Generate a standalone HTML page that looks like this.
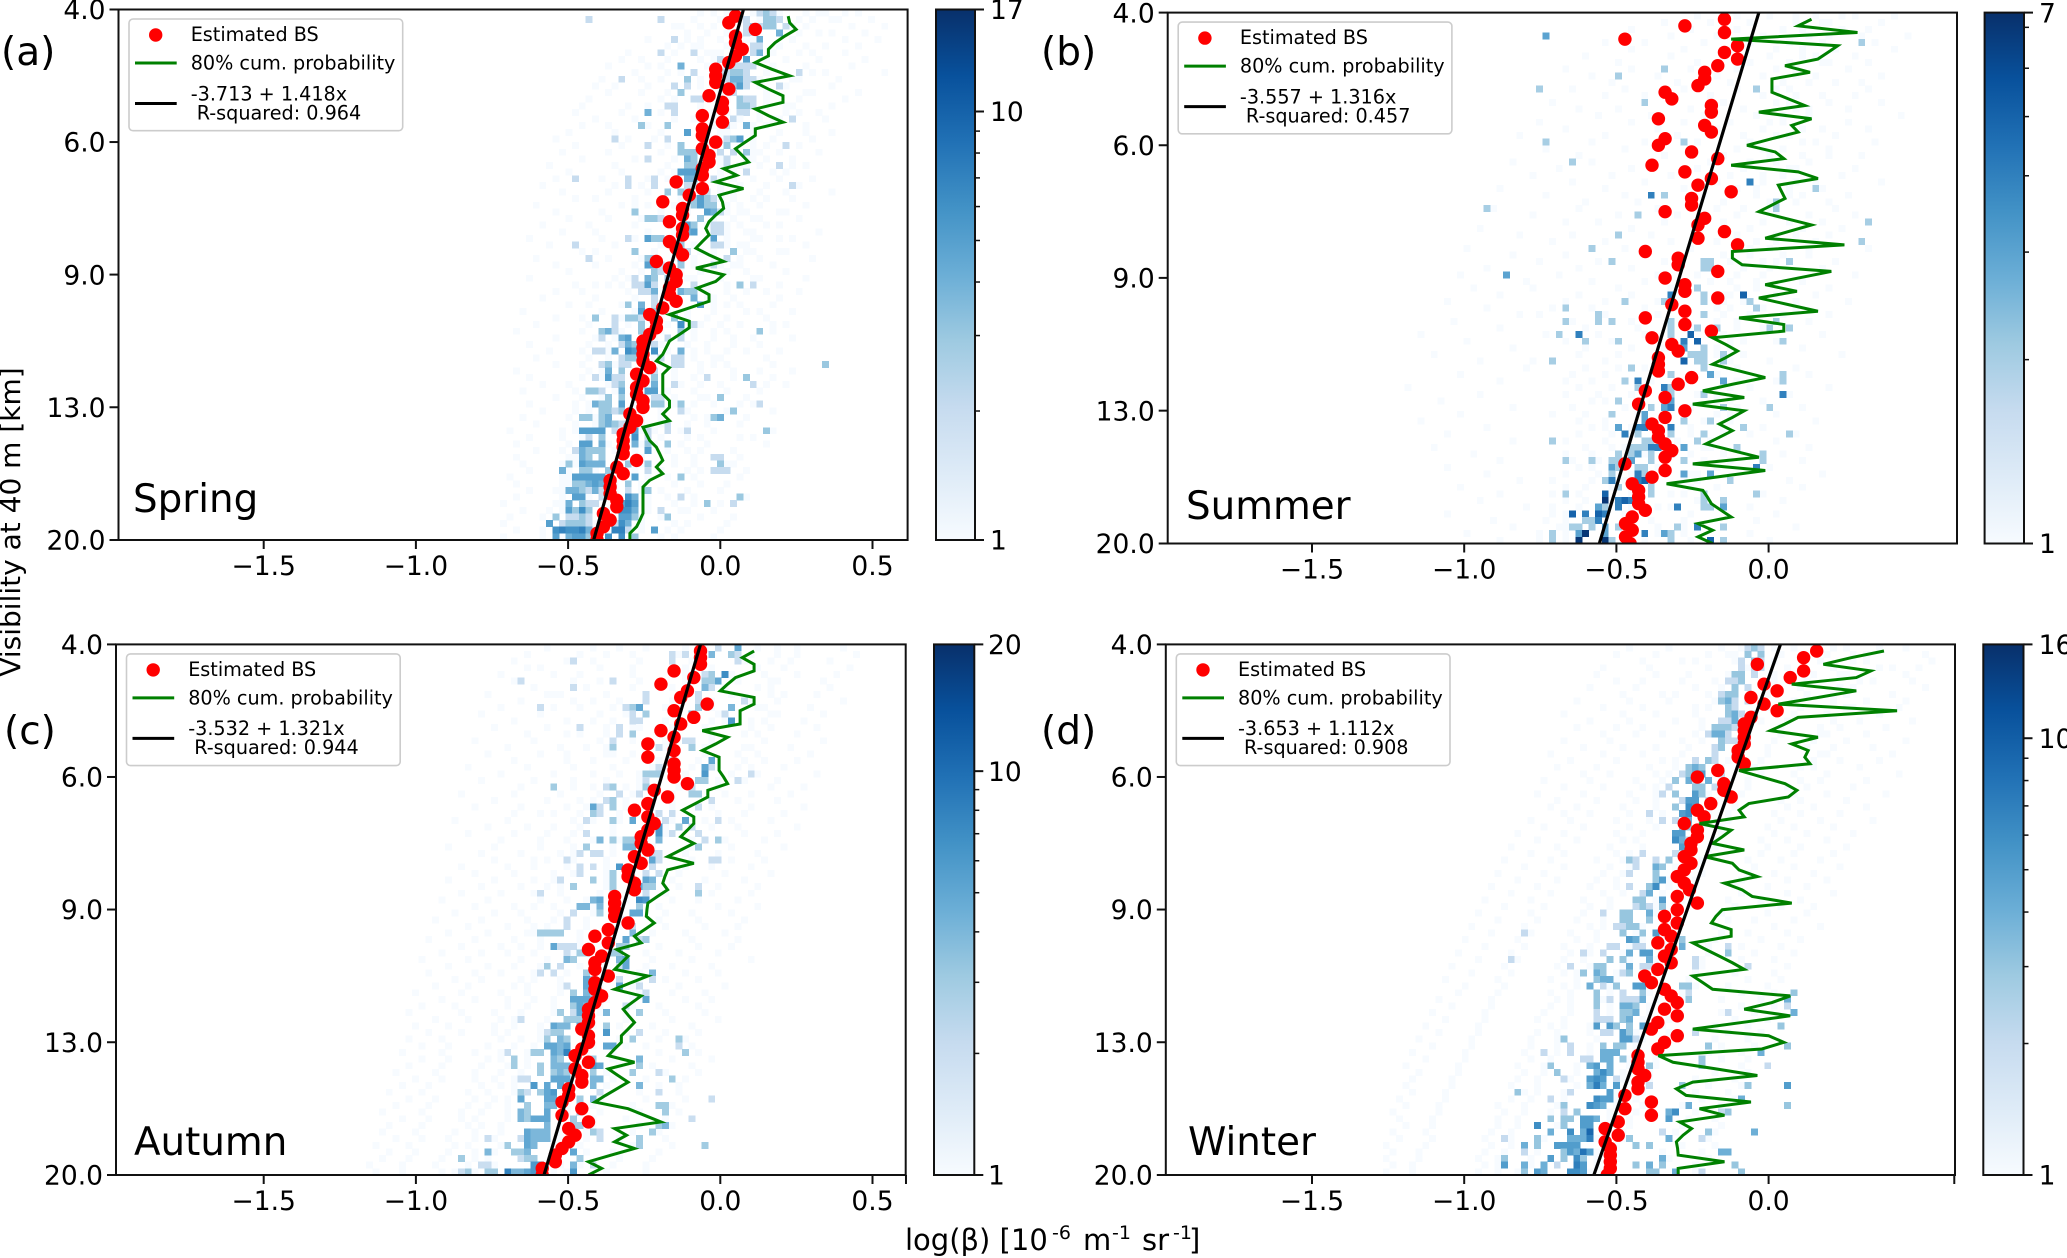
<!DOCTYPE html>
<html lang="en">
<head>
<meta charset="utf-8">
<title>Visibility vs backscatter by season</title>
<style>
html,body{margin:0;padding:0;background:#fff;width:2067px;height:1258px;overflow:hidden}
svg{display:block}
text{font-family:"DejaVu Sans","Liberation Sans",sans-serif;fill:#000}
</style>
</head>
<body>
<svg id="figure" xmlns="http://www.w3.org/2000/svg" width="2067" height="1258" viewBox="0 0 2067 1258">
<defs>
<linearGradient id="blues" x1="0" y1="1" x2="0" y2="0">
<stop offset="0" stop-color="#f7fbff"/><stop offset=".125" stop-color="#deebf7"/><stop offset=".25" stop-color="#c6dbef"/><stop offset=".375" stop-color="#9ecae1"/><stop offset=".5" stop-color="#6baed6"/><stop offset=".625" stop-color="#4292c6"/><stop offset=".75" stop-color="#2171b5"/><stop offset=".875" stop-color="#08519c"/><stop offset="1" stop-color="#08306b"/>
</linearGradient>
</defs>
<text transform="translate(20,522) rotate(-90)" text-anchor="middle" font-size="28">Visibility at 40 m [km]</text>
<text y="1250" font-size="29"><tspan x="905">log(β) [10</tspan><tspan x="1052" dy="-11" font-size="19">-6</tspan><tspan x="1083" dy="11">m</tspan><tspan x="1112" dy="-11" font-size="19">-1</tspan><tspan x="1142" dy="11">sr</tspan><tspan x="1173" dy="-11" font-size="19">-1</tspan><tspan x="1189" dy="11">]</tspan></text>
</svg>
<script>
// Shared axis data
const yTickValues = [4, 5.98, 8.94, 13.37, 20];
const yTickLabels = ['4.0', '6.0', '9.0', '13.0', '20.0'];
const xTickValuesFull = [-1.5, -1.0, -0.5, 0.0, 0.5, 0.61];
const xTickLabelsFull = ['\u22121.5', '\u22121.0', '\u22120.5', '0.0', '0.5', ''];
const xTickValuesShortB = [-1.5, -1.0, -0.5, 0.0];
const xTickLabelsShortB = ['\u22121.5', '\u22121.0', '\u22120.5', '0.0'];
const xTickValuesShortD = [-1.5, -1.0, -0.5, 0.0, 0.61];
const xTickLabelsShortD = ['\u22121.5', '\u22121.0', '\u22120.5', '0.0', ''];
const xTickValuesA = [-1.5, -1.0, -0.5, 0.0, 0.5];
const xTickLabelsA = ['\u22121.5', '\u22121.0', '\u22120.5', '0.0', '0.5'];

// Colour-bar maxima per panel (top tick is labelled with the whole-number part)
const colorbarMaxA = 17.3;
const colorbarMaxB = 7.4;
const colorbarMaxC = 20.6;
const colorbarMaxD = 16.4;

// Fitted line: log(beta) at 4 km and at 20 km
const fitA = [0.076, -0.416];
const fitB = [-0.032, -0.556];
const fitC = [-0.065, -0.579];
const fitD = [0.039, -0.574];

// Estimated BS: log(beta) for visibility steps 1..80
const dotsA = [.05,.028,.115,.05,.05,.072,.05,.028,-.015,-.015,-.015,.028,-.037,.007,.007,-.059,.007,-.059,-.059,-.015,-.059,-.037,-.037,-.059,-.059,-.145,-.059,-.102,-.189,-.124,-.124,-.167,-.124,-.124,-.167,-.145,-.124,-.21,-.167,-.145,-.145,-.167,-.167,-.145,-.189,-.232,-.21,-.21,-.232,-.254,-.254,-.254,-.254,-.232,-.275,-.254,-.275,-.275,-.254,-.254,-.297,-.275,-.297,-.319,-.319,-.319,-.319,-.275,-.34,-.319,-.362,-.362,-.362,-.34,-.34,-.384,-.362,-.384,-.405,-.405];
const dotsB = [-.145,-.275,-.145,-.472,-.102,-.145,-.102,-.167,-.21,-.21,-.232,-.34,-.318,-.188,-.188,-.362,-.21,-.188,-.34,-.362,-.253,-.167,-.383,-.275,-.188,-.232,-.123,-.253,-.253,-.34,-.21,-.232,-.145,-.232,-.102,-.405,-.297,-.297,-.167,-.34,-.275,-.275,-.167,-.318,-.275,-.405,-.275,-.188,-.383,-.318,-.297,-.362,-.362,-.362,-.253,-.297,-.405,-.34,-.427,-.275,-.34,-.383,-.362,-.362,-.34,-.318,-.34,-.472,-.34,-.383,-.448,-.427,-.427,-.427,-.405,-.448,-.47,-.448,-.47,-.455];
const dotsC = [-.065,-.065,-.065,-.152,-.087,-.195,-.108,-.13,-.043,-.152,-.087,-.13,-.195,-.152,-.238,-.152,-.238,-.152,-.152,-.152,-.108,-.217,-.173,-.238,-.282,-.238,-.217,-.238,-.26,-.26,-.238,-.282,-.26,-.303,-.303,-.282,-.282,-.347,-.347,-.347,-.347,-.303,-.368,-.412,-.368,-.433,-.39,-.412,-.412,-.368,-.412,-.412,-.39,-.412,-.433,-.433,-.433,-.455,-.433,-.433,-.455,-.477,-.433,-.477,-.455,-.455,-.498,-.498,-.52,-.455,-.52,-.433,-.498,-.477,-.498,-.52,-.542,-.542,-.585,-.585];
const dotsD = [.158,.115,-.037,.115,.071,-.015,.028,-.058,-.015,.028,-.058,-.08,-.08,-.08,-.08,-.10,-.10,-.08,-.167,-.234,-.147,-.147,-.123,-.19,-.234,-.212,-.277,-.234,-.234,-.255,-.255,-.277,-.255,-.277,-.3,-.277,-.26,-.3,-.234,-.3,-.342,-.3,-.342,-.32,-.364,-.32,-.342,-.32,-.364,-.407,-.385,-.342,-.32,-.3,-.342,-.3,-.364,-.385,-.3,-.342,-.364,-.429,-.429,-.429,-.407,-.429,-.429,-.472,-.385,-.472,-.385,-.494,-.537,-.494,-.537,-.52,-.52,-.52,-.52,-.53];

// 80% cumulative probability: log(beta) for visibility steps 1..80
const greenA = [.223,.228,.249,.212,.18,.158,.158,.115,.169,.228,.115,.158,.206,.206,.115,.158,.206,.115,.115,.082,.05,.072,.093,.011,.054,-.015,.076,-.004,.007,.011,-.015,-.037,-.048,-.037,-.059,-.08,-.037,.011,-.08,.011,-.015,-.076,-.037,-.037,-.102,-.167,-.102,-.102,-.134,-.167,-.178,-.189,-.21,-.167,-.189,-.189,-.189,-.189,-.167,-.167,-.189,-.167,-.254,-.243,-.232,-.21,-.199,-.189,-.21,-.189,-.232,-.254,-.254,-.254,-.254,-.254,-.264,-.275,-.297,-.297];
const greenB = [.141,.097,.292,-.123,.227,.195,.162,.054,.136,.011,.011,.011,.065,.119,-.032,.141,.076,.097,.011,-.071,.022,.05,-.123,.097,.162,.032,.043,.054,.011,-.032,.054,.141,.065,-.011,.249,-.119,-.119,-.087,.206,.097,-.011,.093,-.032,.065,.162,-.097,.05,.05,-.184,-.141,-.102,-.141,-.184,-.097,-.011,-.119,-.216,-.08,-.249,-.08,-.119,-.162,-.119,-.162,-.206,-.119,-.032,-.249,-.011,-.173,-.335,-.216,-.201,-.188,-.156,-.123,-.232,-.184,-.232,-.184];
const greenC = [.111,.072,.111,.111,.05,.024,0,.111,.111,.065,.065,.065,-.059,.024,-.015,-.059,-.004,-.004,-.004,.011,.024,-.041,-.041,-.082,-.124,-.087,-.087,-.108,-.13,-.087,-.13,-.173,-.087,-.173,-.182,-.189,-.173,-.206,-.238,-.241,-.243,-.217,-.249,-.282,-.26,-.34,-.303,-.325,-.347,-.238,-.293,-.347,-.26,-.29,-.319,-.301,-.282,-.303,-.325,-.325,-.347,-.368,-.282,-.368,-.336,-.303,-.34,-.377,-.412,-.303,-.249,-.195,-.347,-.308,-.347,-.282,-.358,-.433,-.39,-.433];
const greenD = [.379,.271,.18,.336,.288,.076,.288,.162,.032,.422,.097,.054,.006,.162,.076,.13,.119,.136,-.097,-.022,.054,.093,.065,-.065,-.097,-.08,-.227,-.123,-.152,-.184,-.08,-.21,-.119,-.097,-.037,-.145,-.087,-.054,.076,-.152,-.173,-.188,-.123,-.123,-.249,-.206,-.162,-.119,-.08,-.249,-.216,-.184,.071,.011,-.08,.071,-.087,-.249,0,.05,-.022,-.362,-.314,-.173,-.037,-.249,-.303,-.271,-.058,-.227,-.145,-.292,-.253,-.281,-.303,-.299,-.297,-.145,-.297,-.297];

// 2-D histogram: one entry per visibility bin, as [betaBin, count, betaBin, count, ...]
const heatA = [
[92,1,96,1,97,2,98,3,99,2],[71,2,82,2,94,1,95,2,98,3,99,3,100,2],[85,1,95,2,96,3,97,2,98,3,99,3,101,2],[95,2,96,2,100,4],[84,2,93,1,96,1,97,4],[85,1,87,1,88,1,96,2,97,2],[82,2,87,2,89,1,90,1,96,2,97,4],[91,2,92,1,95,5],
[85,4,92,2,93,2,94,2,95,2,96,2],[87,2,91,2,92,2,93,3,94,3,95,2,103,2],[76,2,86,3,92,2,93,4,94,4,95,2,96,2],[84,2,86,2,93,3,94,5,95,2,97,1,100,2],[85,3,92,1,93,2],[87,2,88,2,94,3,95,2,96,2],[83,2,84,2,94,3,95,3,96,2],[80,4,84,2,94,2,95,2],
[87,1,93,2,94,1,102,2],[79,3,83,3,92,2,93,1,95,4],[86,5,92,1],[75,2,83,2,92,2,93,3,94,5],[80,2,85,3,92,3,101,2],[85,3,86,3,87,3,91,2,93,2,95,3],[80,2,86,4,87,3,92,2],[86,3,87,3,92,2,95,1,100,2],
[85,5,86,5,87,5,95,2],[69,2,77,2,81,2,86,4,87,4,90,2],[77,2,81,2,86,2,87,2,102,2],[83,3,85,3,86,2,89,2],[87,3,88,5,89,3,90,2],[78,1,87,3,88,5,89,3,90,3],[78,3,85,2,89,5,90,4,91,2],[80,3,81,3,82,2,88,3],
[86,5,87,3,90,2,91,2],[86,4,87,5,90,2,91,2],[77,2,80,5,81,3,82,3,90,5],[69,2,84,2,85,3,90,2,91,2],[78,3,85,3,86,2,93,3],[71,2,80,3,81,3,85,5,92,2],[80,5,81,5,82,2,85,3,90,2],[81,3,82,2,84,3],
[78,2,80,4,81,3,83,3],[74,1,78,2,79,2,80,5,81,2,87,2,94,3,96,2],[79,2,80,2,81,4,85,4,86,3,87,3],[81,2,84,1,87,4,90,1],[77,3,79,4,81,2,88,5],[79,5,81,3],[72,3,75,2,77,3,78,3,79,2,84,3],[75,2,79,3,81,2,85,6,87,2],
[73,3,74,4,75,2,79,3,85,3,97,3],[73,2,76,4,77,5,83,2,85,2],[76,2,77,4,78,3,81,2],[72,2,73,2,75,4,77,6,78,5,81,6,85,4],[76,2,77,3,78,3,82,2,84,2,85,2],[73,2,74,3,76,2,77,2,84,2,85,2,107,3],[74,4,76,3,81,2],[72,2,74,5,75,2,76,2,81,3,89,2,95,3],
[75,2,76,3,81,4,84,2,96,2],[71,3,72,3,73,2,76,4,80,5,81,5],[74,3,76,3,81,2,82,2,91,3],[72,4,73,3,74,3,76,5,81,3,82,3,85,3,97,2],[73,3,74,3,75,2,76,3,85,2,93,3],[70,3,71,3,73,3,74,4,90,3,91,4],[73,3,74,4,75,3,76,2,83,2],[70,5,71,5,72,5,73,5,75,2,78,5,80,2,83,2,86,2,98,3],
[71,2,73,3,78,6,80,2],[70,5,71,5,73,4,78,4,80,3,83,3],[69,2,70,4,71,3,72,3,73,3,80,5],[70,4,71,3,73,3,90,2,91,2],[68,3,70,5,71,4,72,4,73,4,77,3,80,3,91,3],[67,4,70,3,71,3,74,3,80,2,90,2,91,2,92,2],[69,5,70,5,71,5,72,5,73,5,78,5,85,3],[69,3,70,3,71,4,72,5,73,4,77,3],
[68,4,69,4,70,3,71,2,72,4,73,2,77,2,80,3],[69,5,70,5,73,2,77,6,78,4,85,2,94,3],[68,4,70,3,71,2,72,2,76,5,77,7,78,5,89,3,93,2],[68,5,69,3,70,6,71,3,76,6,77,6,78,4,82,2],[66,3,68,2,69,2,70,3,71,2,76,5,77,5,78,3,83,3],[65,5,67,2,68,3,69,3,70,3,71,2,75,2,76,6,77,4],[66,6,67,7,68,6,69,6,70,7,71,4,75,7,76,7,77,2,81,5],[66,5,68,4,69,5,70,5,71,3,74,6,76,6,78,3]
];
const heatB = [
[95,1],[],[],[57,3],[105,2],[],[],[],[75,2],[68,2],[],[56,2,89,2],[],[72,2],[],[],[],[],[],[57,2,78,2],[],[],[61,2],[],[],[88,4],[98,2],[73,4,75,2],[92,2],[48,2,92,2],[71,2],[106,2],[],[68,2],[105,2],[64,2],[],[67,2,81,2,82,2,94,2],[81,2,82,2],[51,3],[],[80,2],
[76,4,81,2,87,5],[69,2,75,2,81,2,88,2],[60,2,89,2],[65,2,81,2],[60,2,65,2,67,2,76,2,92,2],[76,2,80,2,83,2,91,2,94,2],[59,2,62,4,76,2,79,5],[63,2,68,2,78,4,80,5,93,2],[78,3,81,2],[79,2,80,2,81,2,84,2],[58,2,78,5,80,2,81,2,84,2],[70,2,81,2],[76,2,82,3,93,2],[69,2,71,4,84,3,93,2],[71,2,75,4,76,2],[76,2,81,2,93,4],[68,2,75,2,76,3],[73,2,75,3,76,4,84,2,91,2],[67,2,72,3],[72,3,78,2,82,2],[68,3,71,4,72,4,76,4,87,2],[69,4,71,2,76,2,81,2,94,2],[58,2,72,2,73,2,80,2],[70,2,71,2,72,2,73,4,74,4,78,3,86,2],[68,2,70,2,71,3,73,2,76,2,90,2],[60,2,64,2,67,2,68,2,70,3,73,2,78,2,90,2],
[67,3,68,2,71,2,72,2,89,4],[67,2,71,4,72,2,78,3,82,3],[66,2,67,4,71,4,72,5,73,2,85,2],[68,2,71,2,73,2],[60,2,66,5,73,2,81,2,89,2],[66,7,68,4,69,5,70,4,81,2,84,2],[65,3,66,2,68,4,77,4,81,2,82,2,84,3],[61,5,63,4,65,5,66,4],[63,2,64,2,65,4],[61,2,62,2,64,2,66,3,68,2,77,2,80,4,84,2],[58,2,62,3,63,7,66,3,72,4,75,3,76,2],[58,2,62,7,66,7,67,2,76,2,82,5,84,2]
];
const heatC = [
[88,1,89,1,91,2,94,5],[84,2,86,2,90,4,93,3,94,2],[69,2,84,2,87,1,94,2],[62,1,86,1],[89,2,90,3,92,7],[61,2,75,2,89,3,90,3,91,5],[69,2,89,4,90,2],[65,1,66,1,80,2,88,2],
[80,2,88,2,95,2],[64,2,77,2,78,3,79,5,88,3,93,4],[78,2,80,3,87,4,92,2],[78,2,79,2,92,1,93,6],[70,2,76,2,79,1],[76,2,78,3],[75,2,86,2,87,2],[75,3,82,2,87,3],
[75,1,78,1],[84,2,90,5],[82,2,89,5,90,2],[80,3,81,3,82,3,89,6,96,2],[80,2,88,3,89,3,94,2],[66,3,74,2,75,3,80,3,87,2],[76,2,79,2,87,3,88,3],[74,2,75,3,90,2],
[72,5,73,2,75,3,88,2],[72,3,73,2,82,2,84,2],[71,2,75,3,78,5,83,2,86,5,91,2],[82,6,85,3,87,2],[71,2,82,6,84,2,88,2],[73,4,75,3,77,3,78,3,82,4,89,2,91,3,92,1],[71,3,77,4,78,4,88,3],[70,2,72,2,73,2,81,2,82,2],
[68,2,81,5,82,2,90,2,91,2],[70,2,72,2,76,6,81,2],[70,2,75,3,80,2,82,2],[67,2,72,3,75,3,80,5,81,4],[69,3,75,3,79,5,80,3,81,3,88,2],[64,2,75,2,80,2,88,3],[72,4,73,5,79,7,80,6],[70,4,71,4,73,4,79,3],
[69,2,73,3,78,5,79,5],[68,2,77,2],[68,2,78,2],[64,3,65,3,66,3,67,3,78,4],[77,5,79,2,80,3],[66,5,67,2,68,2,69,2,76,3,77,3],[68,2,70,3,71,3,75,3,76,3],[68,4,69,3,76,4,77,5],
[65,3,67,2,76,2,77,5],[64,2,66,2,71,3,81,4],[71,5,72,3,76,2,81,2],[68,2,71,5,72,3,76,5,79,2],[69,3,71,4,72,3,80,2],[69,5,70,5,71,5,72,4,80,5],[69,3,70,5,71,4,77,2],[67,3,69,2,70,5,71,3,74,4,79,3],
[61,2,68,3,69,3,70,3],[66,5,67,4,68,4,70,5,74,3],[65,2,66,3,67,3,74,6,79,2],[65,3,67,4,68,3,78,3,85,3],[65,5,66,5,67,4,68,5,74,5,75,5,85,2],[59,2,63,3,64,3,66,5,67,4,68,8,86,3],[60,3,66,4,67,3,72,3,79,4],[60,3,64,3,66,4,67,4,68,4,72,6,73,5,79,3],
[64,3,66,3,67,4,68,3,72,3,78,3,82,2],[61,2,62,2,66,5,67,5,68,5,72,4,73,4,84,3],[63,6,65,5,67,5,72,4,79,4],[61,3,62,2,64,3,65,5,66,6,73,2,82,2],[61,5,65,5,66,5,70,3,72,4,90,2],[62,3,65,4,66,4,70,3,82,3,83,3],[61,4,62,3,65,5,70,3,83,3],[61,4,62,3,63,5,64,5,65,5,69,3,87,2],
[65,4,69,3,70,3,82,3,83,4],[62,5,63,4,64,4,65,4,72,3,73,2,81,3],[56,2,61,2,62,5,63,4,64,4,65,4,73,2,79,3],[59,3,62,5,63,4,79,3,89,3],[56,4,60,3,61,3,62,4,69,5],[52,3,61,2,62,3,63,3,70,3],[55,2,56,2,63,6,64,6,69,4,72,2],[52,2,53,3,56,3,57,3,59,8,60,4,61,4,62,5,63,6,69,6]
];
const heatD = [
[88,2,89,3,90,2,92,1],[86,1,88,3,90,3],[87,2,89,3,90,2],[87,2,89,2,90,2],[86,3,87,3,89,2],[85,2,86,2,87,3],[86,3,88,2],[84,2,85,3,86,3],
[84,3,85,4,86,2,88,2],[85,3,86,2],[85,3,86,4,87,2,89,2],[84,2,85,2,86,4],[83,3,84,3,85,3,86,2],[82,2,83,4,84,4,85,2],[84,3,85,2,86,2],[83,2,84,3],
[83,2,86,2],[80,2,82,3,83,2],[79,3,80,4,81,3],[78,2,79,3,80,4,81,5,84,2],[77,3,79,4,80,2,82,4],[76,2,80,3,81,3,83,2],[75,2,77,3,80,5,81,3],[78,2,79,5,80,5,82,2],
[77,3,79,6,80,5],[73,2,78,5,79,6],[75,2,77,2,79,4,81,2],[78,3,79,3],[77,5,78,5],[77,6,78,4,79,2],[78,5,79,3],[72,2,77,2,79,3],
[70,3,71,2,74,2,76,3],[71,2,74,4,75,3],[70,2,74,3],[74,3,75,5],[70,2,73,3,74,6],[72,2,73,4],[71,3,72,3,75,5],[71,2,72,3,73,2,75,3],
[66,2,69,3,70,3,73,4],[69,3,70,3,73,3],[68,2,69,2,70,3,71,3],[54,2,69,3,72,3,74,5],[70,5,71,4,78,3],[67,2,68,2,71,2,72,2,78,4,85,2],[63,2,66,2,70,4,72,5,73,5,85,3],[52,2,67,3,69,3,73,4,80,2],
[61,2,65,3,66,3,70,4,72,2,73,2,80,2,88,2],[63,3,65,4,66,3,69,2,70,3],[65,3,66,4,67,4],[64,4,66,2,68,3,71,5,72,5,78,3,79,3],[65,3,69,2,72,3,79,2,95,3],[65,3,67,2,69,2,70,2,71,2,72,4,79,3,94,4],[65,3,69,4,70,4,71,3,94,2],[65,2,69,3,70,3,71,4,85,2,95,4],
[65,2,66,2,67,2,69,3,70,4],[65,5,67,5,68,3,70,3,72,5,93,3],[66,2,67,2,69,5,70,3,80,2],[60,3,69,5,70,5,71,2],[61,2,66,3,68,3,69,3,82,3,94,3],[57,2,61,2,66,4,67,4,68,4,90,4],[63,2,64,2,66,4,67,4,69,3,81,3],[58,3,64,4,65,5,67,4,73,3,81,3,91,2],
[59,3,65,4,66,6,67,4],[60,2,64,5,65,6,66,5,68,2],[64,4,65,7,66,4,68,5,73,2,78,3,88,3,94,5],[53,3,61,2,67,5],[58,2,65,6,66,5,67,5,87,4],[60,3,64,6,65,5,66,4,79,4,94,3],[60,2,62,3,76,4,77,6,84,2,85,3],[58,3,60,3,61,3,63,5,64,5,65,4,76,5],
[56,6,60,3,63,5,64,5],[58,4,61,6,63,4,64,9,75,2,82,3,89,4],[51,2,56,3,61,4,62,4,63,4,64,7,70,3,76,4,81,2],[54,4,56,3,59,5,60,5,61,5,62,5,71,3,73,3],[54,2,60,3,61,5,62,4,63,8,64,5,84,4,85,4],[51,3,58,5,60,3,62,6,63,3,75,4],[51,5,54,4,57,4,59,2,62,7,63,5,71,3,73,4,75,3,86,3],[54,3,56,5,57,4,61,6,62,6,63,5,73,3,74,3,77,4,81,2,87,3]
];

// Single-count histogram bins near the ridge: beta-bin numbers per visibility bin
const faintA = [
[88,90,104,107,110],[87,91,93,103,105,108],[84,88,90,102,104],[86,89,92,103,106],[80,86,88,91,102],[83,92,94,100,104],[84,91,93,99,103],[79,83,88,90,98,101],[80,82,89,90,99],[78,83,85,90,98,105],[79,82,88,90,97,102],[75,80,88,91,97],[79,83,89,91,98,104],[82,84,90,92,98],[77,80,88,91,98,101],[76,82,90,92,97,103],
[78,84,90,91,97,100],[74,80,88,90,96],[75,82,89,91,96,104],[77,81,90,91,96,99],[76,83,89,90,96,103],[74,82,89,90,96,100],[78,84,90,91,95,98],[75,83,89,91,94,102],[76,82,84,91,93,99],[73,80,83,91,93,100],[75,79,84,91,94],[74,80,88,91,93,101],[72,78,85,91,93,98],[76,80,84,92,94],[73,82,86,92,94,101],[74,79,85,90,93,97],
[71,78,83,89,92,98],[72,80,84,92,95],[73,78,84,92,96,100],[75,82,87,92,94],[72,81,88,90,95,101],[74,79,87,90,94],[72,78,87,91,94,99],[76,79,85,88,92],[75,77,86,87,91,97],[72,76,83,89,92],[70,77,83,89,92,98],[72,78,83,89,93],[71,76,84,90,92],[73,78,83,86,90,97],[70,76,82,86,89],[71,77,83,88,91,99],
[70,76,82,87,90],[72,75,81,87,90,96],[71,74,82,86,89],[70,74,83,87,89,95],[71,74,81,87,90],[70,75,80,88,90],[71,73,80,84,88,97],[70,73,78,84,87],[68,74,80,85,88,98],[69,75,79,83,87],[70,73,78,84,88],[69,71,78,84,87,94],[69,71,78,82,86],[68,72,79,82,87,95],
[69,72,79,82,86],[67,69,79,81,85],[67,70,76,82,86,94],[68,74,79,81,85],[67,75,78,83,86],[68,69,76,79,84],[67,69,75,79,84,92],[68,72,78,82,86],[67,68,76,80,83],[67,68,75,79,84],[66,67,75,79,82],[67,71,75,80,83],[66,67,75,80,84],[65,67,74,80,85],[64,66,74,79,82],[65,72,74,79,84],[64,72,74,79,83],[64,67,72,78,82]
];
const faintB = [
[86,91,98,104],[82,88,95,100],[79,86,93,102],[83,90,97,105],[72,81,88,99],[78,85,92,101],[76,84,91,96],[80,88,94,100],[70,79,86,95],[74,83,90,98],[77,85,93,101],[69,78,86,94],[72,82,90,99],[76,84,92,100],[68,79,87,95],[73,81,89,97],
[70,78,85,93],[74,83,90,99],[66,77,87,94],[72,80,88,96],[69,79,86,93],[75,84,91,100],[64,73,82,92],[70,80,87,95],[67,76,85,93],[72,83,90,98],[66,78,86,94],[69,81,89,96],[71,79,84,95],[62,74,83,91],[68,77,86,97],[65,75,84,94],
[70,80,88,96],[61,73,86,95],[66,76,83,92],[69,79,88,97],[60,72,84,93],[65,75,85,90],[62,70,83,91],[59,74,80,90],[64,72,82,89],[55,68,76,86],[62,70,78,85,92],[60,66,74,84,95],[58,64,72,83,90],[56,66,74,84,93],[61,70,78,86],[63,71,79,90],
[57,65,72,82],[60,67,73,87],[63,70,75,85],[62,68,77,83],[55,66,74,85],[63,68,72,86],[61,66,74,83],[60,64,73,86],[62,67,72,88],[60,65,70,83],[64,66,71,85],[61,69,79,86],[58,63,71,83],[62,66,74,85],[64,66,70,84],[62,67,79,88],
[60,66,75,82],[63,67,69,81],[60,64,72,84],[61,65,69,81],[62,64,74,83],[60,65,70,79],[58,64,69,80],[60,63,67,79],[58,62,70,78],[60,63,67,80],[58,62,70,76],[58,60,69,79],[57,60,70,78],[59,60,70,74],[56,60,70,78],[56,60,70,79]
];
const faintC = [
[76,80,86,97,100],[74,78,85,96,100],[72,79,88,95,99],[78,84,90,97],[70,78,86,93,98],[73,79,86,94,99],[71,78,84,92,97],[74,80,85,93,99],[72,76,84,90,96],[70,75,83,90,97],[73,77,84,91,99],[72,75,83,90,96],[74,78,84,89,96],[68,74,82,90,95],[73,78,83,90,98],[71,74,83,89,95],
[68,74,80,89,94],[72,77,82,88,95],[69,75,81,87,94],[72,76,79,86,93],[69,74,79,86,91],[72,77,79,85,91],[67,73,78,84,92],[70,72,77,84,90],[68,71,77,84,90],[66,70,76,84,91],[69,72,76,84,89],[66,70,75,83,90],[65,69,75,83,88],[68,72,76,80,87],[64,69,75,81,87],[67,69,75,80,86],
[65,69,74,80,87],[63,68,74,79,86],[66,69,74,78,85],[63,66,74,78,84],[65,67,74,78,85],[63,67,73,78,83],[64,68,71,77,84],[63,66,72,76,82],[61,67,72,76,83],[62,66,71,75,82],[63,65,71,76,83],[62,63,70,75,81],[60,64,70,75,80],[61,64,70,74,82],[59,63,69,74,80],[61,65,69,74,81],
[60,64,70,73,80],[58,63,68,73,79],[61,63,67,72,79],[60,62,67,73,78],[58,62,67,73,79],[59,63,66,74,78],[59,62,66,73,78],[57,61,66,73,77],[58,60,65,72,77],[57,60,64,72,76],[57,59,64,71,77],[58,61,64,71,76],[56,60,63,72,77],[54,58,62,71,75],
[56,58,62,71,75],[55,59,62,70,76],[54,58,61,70,74],[54,57,60,70,75],[55,58,60,69,74],[53,56,60,68,73],[54,57,59,68,73],[53,56,59,68,72],[52,55,59,68,73],[52,54,59,67,72],[53,55,58,68,72],[51,54,58,67,71],[50,54,57,67,71],[51,53,58,66,70],[50,54,57,66,71],[49,54,56,66,70],[48,53,57,67,70],[49,51,54,66,68]
];
const faintD = [
[84,87,95,101,108],[82,85,93,100,106],[80,86,92,99,104],[82,88,94,101,110],[79,85,92,98,103],[78,83,92,97,105],[80,84,91,96,102],[77,82,91,97,103],[76,83,90,95,101],[80,82,91,96,104],[74,80,89,95,100],[77,81,90,94,101],[72,81,88,93,99],[75,80,88,93,100],[78,81,88,92,98],[74,79,87,91,97],
[72,78,87,91,99],[75,77,85,90,98],[73,77,84,89,96],[74,76,84,90,95],[71,75,84,88,96],[72,74,83,88,94],[70,74,82,87,95],[71,74,83,86,93],[69,74,82,86,94],[70,75,82,85,92],[68,73,81,85,93],[70,74,81,84,91],[68,72,80,84,92],[69,71,80,83,90],[67,72,79,83,91],[68,70,79,82,90],
[65,69,78,81,88],[67,70,77,80,89],[66,69,77,81,88],[65,68,76,80,87],[64,68,76,80,86],[66,69,75,79,87],[63,67,74,78,85],[64,67,74,77,86],[63,66,74,77,84],[62,66,73,76,85],[64,66,72,76,83],[61,65,71,76,84],[62,65,72,75,83],[60,64,70,75,82],[61,64,69,75,82],[60,63,70,74,81],
[59,64,69,74,81],[60,62,68,73,80],[58,62,68,73,79],[60,62,67,73,80],[58,61,67,73,78],[59,61,66,74,78],[58,61,67,73,77],[57,61,67,73,77],[56,60,66,72,76],[58,60,64,72,75],[56,59,64,71,76],[55,59,65,72,75],[55,59,64,71,75],[54,59,64,71,74],
[55,58,63,70,74],[53,57,62,70,74],[54,57,62,69,73],[53,56,61,69,73],[52,56,62,68,72],[54,56,60,68,72],[52,55,60,68,71],[50,54,59,68,72],[51,54,58,67,71],[50,53,58,67,70],[50,53,59,66,70],[49,52,58,66,69],[48,52,57,65,69],[49,52,56,66,68],[48,51,56,65,68],[47,50,55,65,68],[48,50,55,65,67],[47,50,53,64,66]
];

// Scattered single-count bins farther from the ridge
const farA = [
[100,106,112],[97,109,114],[96,111,116],[94,108,113],[95,110,115],[93,107,112],[77,105,110],[76,106,113],[74,104,111],[95,107,116],[73,103,109],[72,101,108],[74,105,112],[71,103,110],[70,102,108],[69,101,106],
[72,99,107],[70,98,104],[68,100,108],[66,99,105],[69,98,103],[67,97,106],[70,96,102],[65,97,104],[68,95,101],[66,96,105],[64,98,103],[67,97,108],[69,96,102],[63,97,104],[66,95,100],[68,96,103],
[64,94,100],[67,96,106],[62,97,102],[65,95,104],[70,96,100],[63,97,105],[66,93,99],[68,95,101],[62,96,104],[69,94,100],[66,95,103],[64,93,100],[68,94,99],[61,95,102],[66,92,98],[63,94,101],
[60,92,99],[66,93,102],[62,93,97],[65,92,100],[63,91,98],[66,92,99],[60,93,102],[62,93,99],[64,91,101],[61,92,97],[66,89,95],[62,90,96],[64,92,99],[61,89,95],
[63,89,94],[59,90,99],[62,88,96],[60,89,98],[63,88,93],[60,87,94],[61,87,93],[62,88,95],[59,87,94],[60,88,92],[62,86,91],[60,87,95],[58,87,91],[61,86,90],[59,88,93],[58,86,92],[60,85,91],[58,84,90]
];
const farB = [
[80,102,110],[75,99,108],[70,96,106],[76,100,112],[66,94,107],[70,96,110],[63,98,104],[68,99,106],[60,92,103],[64,95,108],[67,97,105],[61,92,106],[66,95,104],[58,94,108],[62,97,103],[65,93,111],
[56,91,103],[60,96,106],[53,92,101],[64,98,107],[57,90,100],[62,96,105],[52,88,97],[59,94,104],[55,90,102],[61,95,108],[50,89,99],[57,94,103],[63,91,100],[49,87,101],[55,92,104],[60,90,99],
[47,88,102],[53,92,100],[58,89,98],[45,91,106],[52,88,97],[56,92,101],[48,87,99],[44,86,104],[54,85,96],[46,89,100],[50,84,98],[42,87,103],[48,85,95],[53,88,100],[43,83,97],[50,86,94],
[38,84,99],[45,85,92],[52,83,96],[40,87,102],[47,80,91],[54,86,95],[44,82,97],[50,78,92],[36,85,100],[47,80,94],[41,83,90],[52,78,96],[44,85,92],[38,81,98],[48,79,90],[42,84,95],
[52,77,92],[40,82,97],[46,79,93],[50,85,96],[42,75,91],[48,80,99],[53,78,94],[44,83,96],[50,76,90],[47,80,93],[54,74,88],[42,79,92],[49,73,89],[52,78,95],[45,74,88],[50,72,91]
];
const farC = [
[65,72,103,110],[62,70,103,112],[60,68,102,108],[64,73,101,111],[58,66,103,109],[60,69,100,107],[63,71,99,108],[56,67,101,106],[61,69,100,110],[58,66,98,105],[55,64,100,107],[60,68,98,104],[57,65,99,106],[62,70,97,103],[54,63,98,107],[59,67,96,102],
[56,64,97,105],[60,68,98,103],[53,62,96,101],[58,66,97,106],[55,63,95,100],[61,69,99,104],[52,60,96,102],[57,65,94,100],[54,61,96,104],[60,64,95,101],[51,59,93,99],[56,62,94,103],[53,60,95,100],[58,64,92,98],[50,57,93,101],[55,61,91,97],
[57,63,93,98],[52,59,90,96],[54,60,92,99],[50,57,89,95],[55,61,91,97],[52,58,90,96],[49,56,88,94],[54,60,91,97],[51,57,87,93],[48,55,88,95],[53,59,89,94],[50,56,86,92],[47,54,87,94],[52,58,88,93],[49,55,85,91],[46,53,87,96],
[50,56,84,90],[47,54,86,91],[51,55,83,88],[48,53,85,92],[45,52,84,89],[49,54,86,90],[46,51,82,88],[44,52,83,89],[48,53,84,91],[45,50,81,87],[47,52,83,88],[44,49,82,86],[46,50,80,87],[43,49,82,88],
[46,50,84,90],[44,49,81,87],[42,48,83,88],[45,49,80,86],[43,47,82,85],[41,46,79,85],[44,48,80,86],[42,47,78,84],[40,46,79,85],[43,47,77,83],[41,46,79,84],[40,45,78,82],[42,46,76,83],[39,44,78,84],[41,45,75,82],[40,44,76,81],[38,43,75,80],[39,43,74,80]
];
const farD = [
[70,76,103,112],[68,74,104,115],[72,78,106,116],[66,73,108,114],[65,74,102,112],[68,72,107,113],[64,71,104,115],[69,75,101,110],[62,70,106,112],[66,72,103,111],[60,69,100,108],[64,70,105,113],[62,68,102,109],[66,71,99,106],[60,67,103,112],[63,69,101,107],
[58,66,100,110],[61,68,102,108],[59,65,98,105],[63,67,100,111],[57,64,99,106],[60,66,97,104],[56,63,100,109],[59,65,96,103],[58,62,98,106],[60,64,96,102],[55,61,99,107],[57,63,95,101],[53,60,97,104],[56,62,94,100],[52,59,96,103],[55,60,95,101],
[51,58,93,99],[54,60,95,102],[50,57,92,98],[53,59,94,100],[49,56,91,97],[52,58,94,101],[48,55,90,96],[51,57,93,98],[47,55,91,97],[50,56,89,95],[46,54,92,99],[49,55,88,94],[45,53,90,96],[48,54,87,93],[44,52,89,95],[47,53,87,92],
[43,51,88,94],[46,52,86,92],[42,50,88,93],[45,51,85,91],[44,50,87,92],[41,49,84,90],[43,49,87,92],[40,48,84,89],[42,48,86,91],[39,47,83,88],[41,47,85,90],[38,46,83,88],[40,46,84,89],[37,45,82,87],
[39,45,84,88],[36,44,81,87],[38,44,83,88],[37,43,80,86],[36,43,82,87],[37,42,80,85],[35,42,81,86],[36,41,78,84],[34,41,80,85],[35,40,79,83],[36,40,78,84],[34,39,77,83],[35,40,76,82],[33,39,78,83],[34,38,75,81],[33,38,76,82],[34,37,75,80],[33,37,74,80]
];

// Panel layout (geometry and wiring only; values live in the arrays above)
const panels = [
  {id:'a', season:'Spring', left:118.5, right:907.6, top:9.5, bottom:540, x0:720.3, cbL:936, cbR:975, cbText:990, tag:[1,65], seasonPos:[133,512], fitText:'-3.713 + 1.418x', r2Text:'R-squared: 0.964',
   heat:heatA, faint:faintA, far:farA, dots:dotsA, green:greenA, fit:fitA, vmax:colorbarMaxA, xv:xTickValuesA, xl:xTickLabelsA},
  {id:'b', season:'Summer', left:1167.7, right:1957, top:12.6, bottom:543.5, x0:1768.6, cbL:1984.6, cbR:2024, cbText:2039, tag:[1041,65], seasonPos:[1186,519], fitText:'-3.557 + 1.316x', r2Text:'R-squared: 0.457',
   heat:heatB, faint:faintB, far:farB, dots:dotsB, green:greenB, fit:fitB, vmax:colorbarMaxB, xv:xTickValuesShortB, xl:xTickLabelsShortB},
  {id:'c', season:'Autumn', left:116, right:905.7, top:644.4, bottom:1175, x0:720.3, cbL:934, cbR:974.3, cbText:988, tag:[4,744], seasonPos:[134,1155], fitText:'-3.532 + 1.321x', r2Text:'R-squared: 0.944',
   heat:heatC, faint:faintC, far:farC, dots:dotsC, green:greenC, fit:fitC, vmax:colorbarMaxC, xv:xTickValuesFull, xl:xTickLabelsFull},
  {id:'d', season:'Winter', left:1165.8, right:1955, top:644.4, bottom:1175, x0:1768.6, cbL:1983.3, cbR:2023.5, cbText:2038.6, tag:[1041,744], seasonPos:[1188,1155], fitText:'-3.653 + 1.112x', r2Text:'R-squared: 0.908',
   heat:heatD, faint:faintD, far:farD, dots:dotsD, green:greenD, fit:fitD, vmax:colorbarMaxD, xv:xTickValuesShortD, xl:xTickLabelsShortD}
];

const NS = 'http://www.w3.org/2000/svg';
const fig = document.getElementById('figure');
const X_PER_UNIT = 304.4;
const Y_BINS = 80, X_BINS = 120;
const TICK_FONT = 26.5, TICK_DY = 9.7;
const BLUES = ['#f7fbff','#deebf7','#c6dbef','#9ecae1','#6baed6','#4292c6','#2171b5','#08519c','#08306b'];

function mk(tag, attrs, parent) {
  const el = document.createElementNS(NS, tag);
  for (const k in attrs) el.setAttribute(k, attrs[k]);
  parent.appendChild(el);
  return el;
}
function hexRgb(h) { return [parseInt(h.slice(1,3),16), parseInt(h.slice(3,5),16), parseInt(h.slice(5,7),16)]; }
function bluesColor(t) {
  const p = Math.max(0, Math.min(1, t)) * (BLUES.length - 1);
  const i = Math.min(BLUES.length - 2, Math.floor(p));
  const a = hexRgb(BLUES[i]), b = hexRgb(BLUES[i + 1]), f = p - i;
  return 'rgb(' + a.map((v, j) => Math.round(v + (b[j] - v) * f)).join(',') + ')';
}
function drawPanel(p) {
  const xPx = v => p.x0 + X_PER_UNIT * v;
  const visAt = k => 4 * Math.pow(5, k / Y_BINS);
  const yPx = vis => p.top + (p.bottom - p.top) * Math.log(vis / 4) / Math.log(5);
  const cellW = (p.right - p.left) / X_BINS, cellH = (p.bottom - p.top) / Y_BINS;

  const panel = mk('g', {}, fig);
  
  

  const clip = mk('clipPath', {id: 'clip-' + p.id}, panel);
  mk('rect', {x: p.left, y: p.top, width: p.right - p.left, height: p.bottom - p.top}, clip);

  // Heat map
  const heat = mk('g', {'shape-rendering': 'crispEdges'}, panel);
  
  
  const cell = (row, col, count) => {
    const t = Math.log(count) / Math.log(p.vmax);
    const r = mk('rect', {x: (p.left + col * cellW).toFixed(2), y: (p.top + row * cellH).toFixed(2), width: (cellW + 0.3).toFixed(2), height: (cellH + 0.3).toFixed(2), fill: bluesColor(t)}, heat);
    
    
  };
  p.far.forEach((cols, row) => cols.forEach(col => cell(row, col, 1)));
  p.faint.forEach((cols, row) => cols.forEach(col => cell(row, col, 1)));
  p.heat.forEach((pairs, row) => { for (let i = 0; i + 1 < pairs.length; i += 2) cell(row, pairs[i], pairs[i + 1]); });

  // Series
  const series = mk('g', {'clip-path': 'url(#clip-' + p.id + ')'}, panel);
  
  
  p.dots.forEach((v, i) => {
    const d = mk('circle', {cx: xPx(v).toFixed(2), cy: yPx(visAt(i + 1)).toFixed(2), r: 6.7, fill: '#ff0000'}, series);
    
    
  });
  const gp = p.green.map((v, i) => xPx(v).toFixed(2) + ',' + yPx(visAt(i + 1)).toFixed(2)).join(' ');
  const green = mk('polyline', {points: gp, fill: 'none', stroke: '#008000', 'stroke-width': 3, 'stroke-linejoin': 'miter'}, series);
  
  
  const fit = mk('line', {x1: xPx(p.fit[0]), y1: yPx(4), x2: xPx(p.fit[1]), y2: yPx(20), stroke: '#000', 'stroke-width': 3.2}, series);
  
  

  // Spines
  const frame = mk('rect', {x: p.left, y: p.top, width: p.right - p.left, height: p.bottom - p.top, fill: 'none', stroke: '#111', 'stroke-width': 2}, panel);
  
  

  // X ticks
  p.xv.forEach((v, i) => {
    mk('line', {x1: xPx(v), x2: xPx(v), y1: p.bottom, y2: p.bottom + 9, stroke: '#111', 'stroke-width': 2}, panel);
    if (p.xl[i]) {
      const t = mk('text', {x: xPx(v), y: p.bottom + 35, 'text-anchor': 'middle', 'font-size': TICK_FONT}, panel);
      
      
      t.textContent = p.xl[i];
    }
  });
  // Y ticks
  yTickValues.forEach((v, i) => {
    mk('line', {x1: p.left - 9, x2: p.left, y1: yPx(v), y2: yPx(v), stroke: '#111', 'stroke-width': 2}, panel);
    const t = mk('text', {x: p.left - 13, y: yPx(v) + TICK_DY, 'text-anchor': 'end', 'font-size': TICK_FONT}, panel);
    
    
    t.textContent = yTickLabels[i];
  });

  // Panel tag and season
  const tag = mk('text', {x: p.tag[0], y: p.tag[1], 'font-size': 39}, panel);
  
  
  tag.textContent = '(' + p.id + ')';
  const sea = mk('text', {x: p.seasonPos[0], y: p.seasonPos[1], 'font-size': 38.8}, panel);
  
  
  sea.textContent = p.season;

  // Legend
  const lx = p.left + 10.5, ly = p.top + 9.5;
  const lg = mk('g', {}, panel);
  
  
  mk('rect', {x: lx, y: ly, width: 273.7, height: 111.7, rx: 4, fill: '#fff', 'fill-opacity': 0.85, stroke: '#ccc', 'stroke-width': 1.6}, lg);
  mk('circle', {cx: lx + 26.7, cy: ly + 16, r: 6.7, fill: '#ff0000'}, lg);
  mk('line', {x1: lx + 6, x2: lx + 47.7, y1: ly + 44, y2: ly + 44, stroke: '#008000', 'stroke-width': 3}, lg);
  mk('line', {x1: lx + 6, x2: lx + 47.7, y1: ly + 84.5, y2: ly + 84.5, stroke: '#000', 'stroke-width': 3}, lg);
  [['Estimated BS', 61.7, 22], ['80% cum. probability', 61.7, 50.6], [p.fitText, 61.7, 81.3], [p.r2Text, 67.7, 100.3]].forEach(e => {
    const t = mk('text', {x: lx + e[1], y: ly + e[2], 'font-size': 19.2}, lg);
    
    
    t.textContent = e[0];
  });

  // Colour bar
  const cb = mk('g', {}, panel);
  
  
  mk('rect', {x: p.cbL, y: p.top, width: p.cbR - p.cbL, height: p.bottom - p.top, fill: 'url(#blues)', stroke: '#111', 'stroke-width': 2}, cb);
  const cbY = v => p.bottom - (p.bottom - p.top) * Math.log(v) / Math.log(p.vmax);
  for (let v = 2; v < Math.min(10, p.vmax); v++) {
    mk('line', {x1: p.cbR, x2: p.cbR + 5, y1: cbY(v), y2: cbY(v), stroke: '#111', 'stroke-width': 1.5}, cb);
  }
  [1, 10, p.vmax].filter(v => v <= p.vmax).forEach(v => {
    mk('line', {x1: p.cbR, x2: p.cbR + 9, y1: cbY(v), y2: cbY(v), stroke: '#111', 'stroke-width': 2}, cb);
    const t = mk('text', {x: p.cbText, y: cbY(v) + TICK_DY, 'font-size': TICK_FONT}, cb);
    
    
    t.textContent = String(Math.floor(v));
  });
}
panels.forEach(drawPanel);
</script>
</body>
</html>
